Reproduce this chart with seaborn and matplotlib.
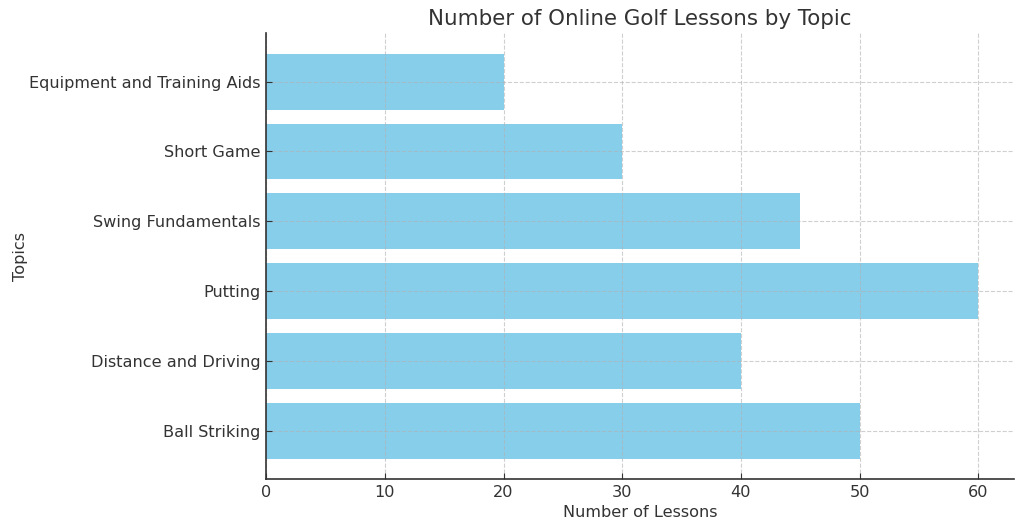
import matplotlib
matplotlib.use("Agg")
import matplotlib.pyplot as plt
import seaborn as sns
import pandas as pd

topics = ["Ball Striking", "Distance and Driving", "Putting", "Swing Fundamentals", "Short Game", "Equipment and Training Aids"]
lessons = [50, 40, 60, 45, 30, 20]

sns.set_style("white")
plt.rcParams['font.family'] = ['DejaVu Sans']
plt.rcParams['text.color'] = '#333333'
plt.rcParams['axes.labelcolor'] = '#333333'
plt.rcParams['xtick.color'] = '#333333'
plt.rcParams['ytick.color'] = '#333333'

df = pd.DataFrame({"Topic": topics, "Lessons": lessons})
order = topics[::-1]

fig, ax = plt.subplots(figsize=(10.24, 5.31), dpi=100)
sns.barplot(data=df, x="Lessons", y="Topic", order=order, color="skyblue", saturation=1,
            width=0.8, linewidth=0, ax=ax)
ax.set_xlim(0, 63)
ax.set_ylim(5.69, -0.69)
ax.set_axisbelow(False)
ax.grid(True, linestyle='--', color='#b0b0b0', alpha=0.6, linewidth=0.8)
sns.despine(ax=ax)
for s in ('left', 'bottom'):
    ax.spines[s].set_color('#333333')
    ax.spines[s].set_linewidth(1.2)
    ax.spines[s].set_zorder(5)
ax.tick_params(axis='both', labelsize=11.6, length=4, direction='in', left=True, bottom=True, pad=4)
ax.set_xlabel("Number of Lessons", fontsize=11.6, labelpad=4)
ax.set_ylabel("Topics", fontsize=11.6, labelpad=1)
ax.set_title("Number of Online Golf Lessons by Topic", fontsize=15.4)
fig.subplots_adjust(left=0.26, right=0.99, top=0.937, bottom=0.098)
fig.savefig("out.png", dpi=100)
